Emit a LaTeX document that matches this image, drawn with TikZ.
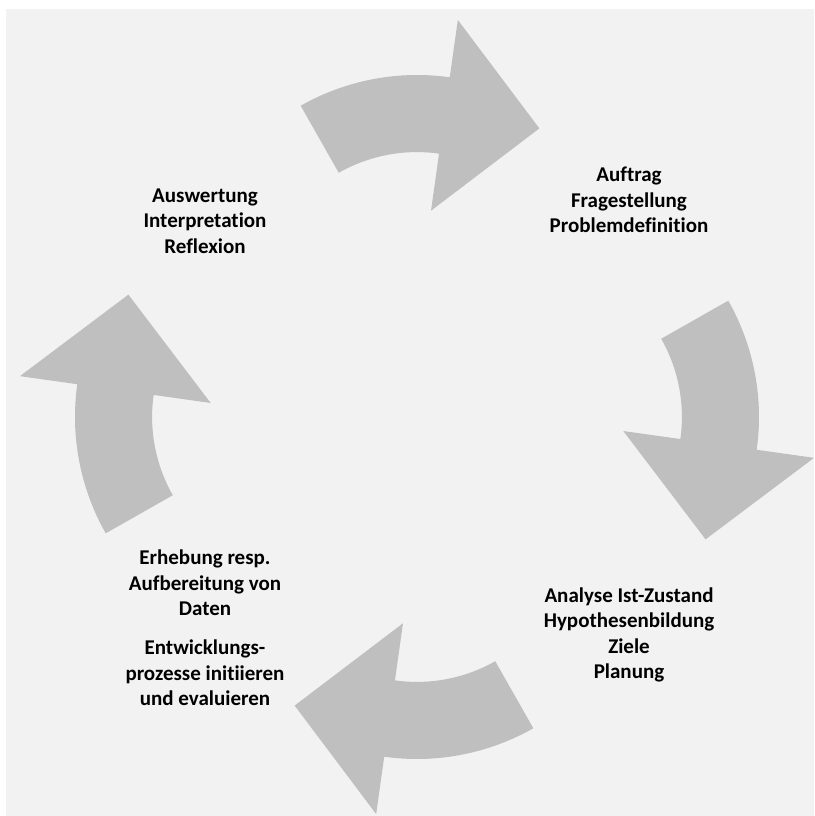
\documentclass[tikz,border=0pt]{standalone}
\usepackage{fontspec}
\setmainfont{Carlito}[Ligatures=NoCommon]
\usepackage{tikz}
\usetikzlibrary{positioning}
\definecolor{cBg}{HTML}{F2F2F2}
\definecolor{cAr}{HTML}{BFBFBF}
\tikzset{
  cyclearrow/.style={fill=cAr,draw=none},
  phase/.style={align=center,inner sep=0pt,font=\fontsize{21}{25.3}\selectfont\bfseries},
}
\begin{document}
\begin{tikzpicture}[x=1pt,y=1pt]
  \useasboundingbox (-417,417) rectangle (397,-399);
  \fill[cBg] (-411,408) rectangle (397,-399);
  % four curved block arrows, turned round the middle
  \foreach \a in {0,-90,-180,-270}{
    \fill[cyclearrow,rotate=\a,shift={(0,106.5)}]
      (119.6:235.5) arc[start angle=119.6,end angle=82,radius=235.5pt]
      -- (82:293.4) -- (56.1:219.4) -- (82:100.8) -- (82:158.4)
      arc[start angle=82,end angle=119.6,radius=158.4pt] -- cycle;
  }
  \node[phase](auftrag) at (212,217){Auftrag\\Fragestellung\\Problemdefinition};
  \node[phase](analyse) at (212,-218){Analyse Ist-Zustand\\Hypothesenbildung\\Ziele\\Planung};
  \node[phase](daten) at (-212,-166){Erhebung resp.\\Aufbereitung von\\Daten};
  \node[phase](entw) at (-212,-256){Entwicklungs-\\prozesse initiieren\\und evaluieren};
  \node[phase](auswertung) at (-212,196){Auswertung\\Interpretation\\Reflexion};
\end{tikzpicture}
\end{document}
